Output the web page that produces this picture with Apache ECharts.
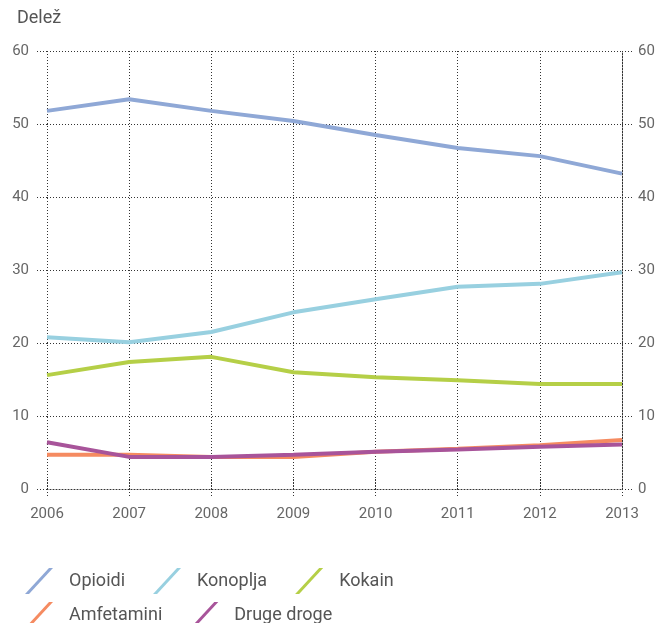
<!DOCTYPE html>
<html><head><meta charset="utf-8">
<script src="https://cdn.jsdelivr.net/npm/echarts@6/dist/echarts.min.js"></script>
<style>html,body{margin:0;padding:0;background:#fff}#c{width:658px;height:623px}</style>
</head><body><div id="c"></div>
<script>
const years = ['2006','2007','2008','2009','2010','2011','2012','2013'];
const seriesNames = ['Opioidi','Konoplja','Kokain','Amfetamini','Druge droge'];
const opioidi = [51.8, 53.4, 51.8, 50.4, 48.5, 46.7, 45.6, 43.2];
const konoplja = [20.8, 20.1, 21.5, 24.2, 26.0, 27.7, 28.1, 29.7];
const kokain = [15.6, 17.4, 18.1, 16.0, 15.3, 14.9, 14.4, 14.4];
const amfetamini = [4.7, 4.7, 4.4, 4.4, 5.1, 5.5, 6.0, 6.7];
const drugeDroge = [6.4, 4.4, 4.4, 4.7, 5.1, 5.4, 5.8, 6.1];
const colors = ['#8fa8d6','#98d0e0','#b5cf47','#f58b61','#a8549a'];
const values = [opioidi, konoplja, kokain, amfetamini, drugeDroge];

const font = 'Roboto, sans-serif';
const dotted = {color:'#333', type:[1,2], width:1};
const legendBase = {
  left:20, itemGap:28, itemWidth:28, itemHeight:26,
  icon:'path://M0,26 L24,0 L28,0 L4,26 Z',
  textStyle:{fontSize:18, color:'#555', fontFamily:font, padding:[0,0,0,11]}
};
const chart = echarts.init(document.getElementById('c'));
chart.setOption({
  animation:false,
  textStyle:{fontFamily:font},
  title:{text:'Delež', left:12, top:4, textStyle:{fontSize:18, fontWeight:'normal', color:'#555', fontFamily:font}},
  grid:{left:47, right:36, top:51, bottom:134},
  legend:[
    Object.assign({}, legendBase, {top:563, data:seriesNames.slice(0,3)}),
    Object.assign({}, legendBase, {top:597, data:seriesNames.slice(3)})
  ],
  xAxis:[{
    type:'category', data:years, boundaryGap:false,
    axisLine:{lineStyle:dotted},
    axisTick:{show:true, length:8, lineStyle:dotted},
    axisLabel:{color:'#666', fontSize:15, margin:18, fontFamily:font},
    splitLine:{show:true, lineStyle:dotted}
  },{
    type:'category', data:years, boundaryGap:false, position:'top',
    axisLine:{show:false},
    axisTick:{show:true, length:11, lineStyle:dotted},
    axisLabel:{show:false}
  }],
  yAxis:[{
    type:'value', min:0, max:60, interval:10,
    axisLine:{show:false},
    axisTick:{show:true, length:11, lineStyle:dotted},
    axisLabel:{color:'#666', fontSize:15, margin:18, fontFamily:font},
    splitLine:{show:true, lineStyle:dotted}
  },{
    type:'value', min:0, max:60, interval:10, position:'right',
    axisLine:{show:true, lineStyle:dotted},
    axisTick:{show:true, length:11, lineStyle:dotted},
    axisLabel:{color:'#666', fontSize:15, margin:16, fontFamily:font},
    splitLine:{show:false}
  }],
  series: seriesNames.map((n,i)=>({
    name:n, type:'line', data:values[i], showSymbol:false, symbol:'none',
    lineStyle:{width:4, color:colors[i]}, itemStyle:{color:colors[i]}
  }))
});
</script></body></html>
